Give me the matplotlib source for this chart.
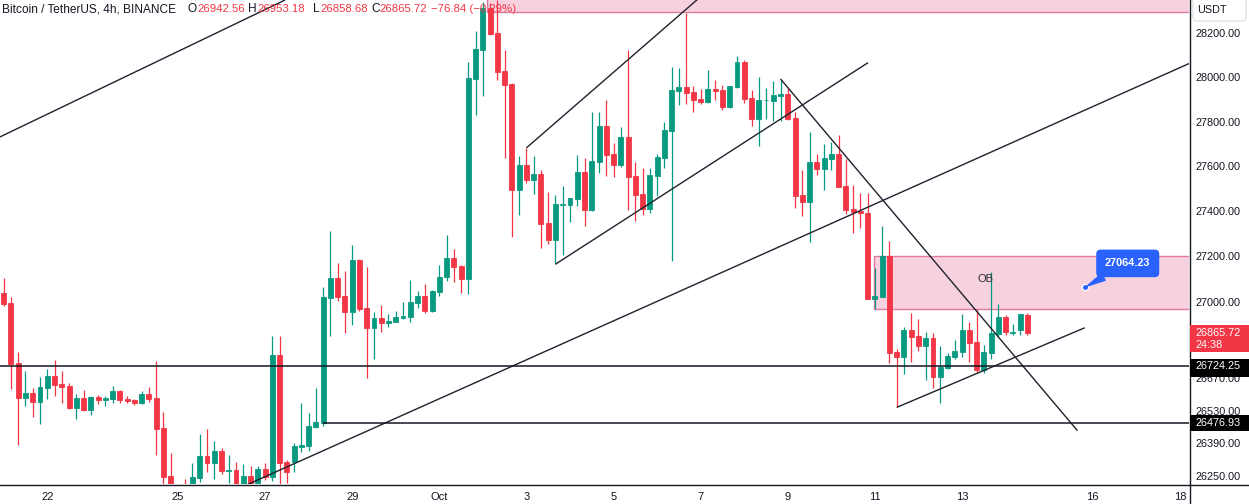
import numpy as np
import pandas as pd
import matplotlib
matplotlib.use("Agg")
import matplotlib.pyplot as plt
from matplotlib.lines import Line2D
from matplotlib.patches import Rectangle, FancyBboxPatch
from matplotlib.transforms import IdentityTransform
from matplotlib.ticker import FixedLocator, FixedFormatter, NullLocator

plt.rcParams['font.family'] = ['Liberation Sans', 'DejaVu Sans']

# BTCUSDT 4h candles, first bar 2023-09-21 00:00
start = "2023-09-21 00:00"
opens = [27039, 26996, 26735, 26585, 26605, 26568, 26628, 26679, 26644, 26635,
         26542, 26584, 26533, 26588, 26576, 26581, 26614, 26579, 26576, 26563,
         26601, 26584, 26455, 26251, 26182, 26205, 26182, 26244, 26336, 26307,
         26357, 26274, 26276, 26204, 26251, 26222, 26280, 26248, 26769, 26309,
         26309, 26374, 26378, 26461, 26478, 27019, 27105, 27026, 26958, 27184,
         26972, 26888, 26929, 26907, 26914, 26930, 26936, 26997, 27026, 26962,
         27045, 27108, 27193, 27158, 27102, 27993, 28123, 28314, 28201, 28029,
         27969, 27494, 27605, 27538, 27565, 27346, 27272, 27429, 27428, 27454,
         27574, 27405, 27618, 27780, 27654, 27605, 27732, 27556, 27475, 27409,
         27556, 27636, 27757, 27939, 27954, 27932, 27901, 27889, 27946, 27942,
         27867, 27957, 28069, 27906, 27813, 27895, 27894, 27916, 27923, 27816,
         27471, 27442, 27617, 27589, 27633, 27654, 27512, 27409, 27402, 27392,
         27015, 27023, 27201, 26782, 26762, 26878, 26852, 26810, 26843, 26675,
         26714, 26761, 26782, 26878, 26826, 26705, 26779, 26863, 26934, 26867,
         26877, 26942.56]
highs = [27105, 27022, 26782, 26701, 26627, 26676, 26709, 26748, 26701, 26648,
         26601, 26618, 26592, 26597, 26592, 26635, 26618, 26592, 26581, 26614,
         26631, 26744, 26523, 26350, 26200, 26240, 26306, 26430, 26451, 26400,
         26370, 26340, 26310, 26302, 26293, 26293, 26306, 26852, 26852, 26320,
         26391, 26562, 26519, 26627, 27065, 27312, 27171, 27136, 27250, 27190,
         27155, 26955, 26987, 26950, 26962, 27000, 27096, 27048, 27081, 27052,
         27162, 27294, 27232, 27162, 28070, 28210, 28345, 28338, 28350, 28123,
         27972, 27645, 27682, 27645, 27583, 27486, 27471, 27512, 27460, 27649,
         27636, 27843, 27843, 27897, 27705, 27777, 28123, 27618, 27592, 27592,
         27654, 27799, 28046, 28043, 28291, 27960, 27946, 28032, 27987, 27964,
         27962, 28096, 28076, 27942, 28001, 27951, 27982, 27992, 27951, 27842,
         27583, 27753, 27654, 27699, 27709, 27739, 27631, 27516, 27479, 27480,
         27149, 27334, 27267, 26795, 26892, 26952, 26926, 26869, 26865, 26808,
         26779, 26834, 26950, 26913, 26968, 26813, 27131, 26991, 26943, 26904,
         26950, 26953.18]
lows = [26984, 26623, 26384, 26549, 26503, 26474, 26581, 26593, 26563, 26538,
        26495, 26529, 26512, 26559, 26550, 26563, 26563, 26563, 26555, 26560,
        26568, 26341, 26190, 26148, 26105, 26130, 26161, 26227, 26269, 26240,
        26260, 26220, 26182, 26191, 26191, 26218, 26235, 26231, 26200, 26221,
        26269, 26351, 26357, 26457, 26465, 26853, 27006, 26866, 26900, 26962,
        26671, 26752, 26870, 26892, 26911, 26927, 26911, 26975, 26953, 26958,
        27027, 27093, 27088, 27038, 27036, 27830, 27916, 28193, 27987, 27637,
        27286, 27383, 27526, 27476, 27238, 27253, 27166, 27206, 27353, 27423,
        27335, 27400, 27571, 27556, 27553, 27596, 27405, 27357, 27383, 27393,
        27467, 27594, 27181, 27874, 27879, 27844, 27879, 27885, 27897, 27850,
        27862, 27951, 27883, 27781, 27691, 27813, 27804, 27804, 27808, 27415,
        27380, 27264, 27562, 27495, 27583, 27506, 27387, 27305, 27326, 27012,
        26971, 27020, 26734, 26544, 26686, 26741, 26788, 26660, 26628, 26561,
        26709, 26754, 26760, 26739, 26693, 26692, 26754, 26849, 26855, 26855,
        26855, 26858.68]
closes = [26993, 26732, 26585, 26605, 26568, 26631, 26679, 26641, 26632, 26541,
          26584, 26533, 26588, 26576, 26584, 26614, 26576, 26572, 26563, 26601,
          26581, 26452, 26248, 26182, 26140, 26165, 26247, 26336, 26306, 26357,
          26273, 26276, 26204, 26251, 26200, 26280, 26247, 26769, 26307, 26269,
          26378, 26383, 26464, 26481, 27022, 27105, 27023, 26958, 27184, 26968,
          26888, 26929, 26907, 26917, 26934, 26939, 27000, 27026, 26962, 27048,
          27109, 27193, 27154, 27102, 27996, 28128, 28314, 28196, 28025, 27966,
          27494, 27605, 27538, 27565, 27343, 27272, 27431, 27431, 27458, 27574,
          27405, 27622, 27780, 27651, 27606, 27732, 27553, 27471, 27409, 27560,
          27640, 27762, 27942, 27954, 27930, 27898, 27889, 27946, 27939, 27867,
          27960, 28069, 27903, 27813, 27897, 27897, 27919, 27923, 27813, 27468,
          27442, 27617, 27589, 27635, 27654, 27508, 27405, 27397, 27390, 27015,
          27026, 27201, 26779, 26762, 26878, 26849, 26810, 26843, 26675, 26717,
          26765, 26787, 26878, 26823, 26705, 26782, 26865, 26934, 26868, 26869,
          26947, 26865.72]

tick_dates = ["2023-09-22", "2023-09-25", "2023-09-27", "2023-09-29", "2023-10-01",
              "2023-10-03", "2023-10-05", "2023-10-07", "2023-10-09", "2023-10-11",
              "2023-10-13", "2023-10-16", "2023-10-18"]
tick_names = ["22", "25", "27", "29", "Oct", "3", "5", "7", "9", "11", "13", "16", "18"]
price_ticks = [26250, 26390, 26530, 26670, 27000, 27200, 27400, 27600, 27800, 28000, 28200]

# drawings: (bar, price) pairs
trend_lines = [
    [(-0.51, 27731), (38.75, 28352)],
    [(72, 27682), (97.3, 28405)],
    [(76, 27166), (119.05, 28066)],
    [(32, 26193), (163.4, 28064)],
    [(107, 27992), (147.9, 26444)],
    [(123, 26544), (148.9, 26888)],
]
level_full = 26724.25
level_part = 26476.93
level_part_from = 44
top_zone = (66.6, 28296, 28500)
ob_zone = (119.9, 26968, 27201)
ob_label = (135.2, 27100)
callout_bar = 148.9
callout_price = 27064.23

GREEN = '#089981'
RED = '#f23645'
DARK = '#131722'
BLUE = '#2962ff'
PINK = '#f8d1df'
PINK_EDGE = '#e07aa2'

W, H = 1249, 504
fig = plt.figure(figsize=(W / 100, H / 100), dpi=100)
ax = fig.add_axes([0, 1 - 484 / H, 1189 / W, 484 / H])
ax.set_yscale('log')
ax.set_ylim(26217, 28352)
ax.set_xlim(-0.51, 163.26)
for s in ax.spines.values():
    s.set_visible(False)

o = np.array(opens, dtype=float)
hi = np.array(highs, dtype=float)
lo = np.array(lows, dtype=float)
c = np.array(closes, dtype=float)
x = np.arange(len(o))
col = np.where(c >= o, GREEN, RED)

ax.vlines(x, lo, hi, colors=col, linewidth=0.9, zorder=3)
ax.bar(x, np.abs(c - o), bottom=np.minimum(o, c), width=0.68, color=col,
       edgecolor=col, linewidth=0.6, zorder=4)

# zones
ax.add_patch(Rectangle((top_zone[0], top_zone[1]), 200, top_zone[2] - top_zone[1],
                       facecolor=PINK, edgecolor=PINK_EDGE, lw=1, zorder=1))
ax.add_patch(Rectangle((ob_zone[0], ob_zone[1]), 200, ob_zone[2] - ob_zone[1],
                       facecolor=PINK, edgecolor=PINK_EDGE, lw=1, zorder=1))
ax.text(ob_label[0], ob_label[1], 'OB', ha='center', va='center', fontsize=8,
        color='#2a2e39', zorder=6)

for (x0, y0), (x1, y1) in trend_lines:
    ax.plot([x0, x1], [y0, y1], color='#1e222d', lw=1.0, zorder=5,
            solid_capstyle='butt')
ax.axhline(level_full, color=DARK, lw=1.1, zorder=5)
ax.hlines(level_part, level_part_from, 200, color=DARK, lw=1.1, zorder=5)

# price callout
ax.plot(callout_bar, callout_price, 'o', ms=4.5, mfc=BLUE, mec='white', mew=0.9, zorder=8)
ax.annotate(f'{callout_price:.2f}', xy=(callout_bar, callout_price), xytext=(43, 24),
            textcoords='offset pixels', ha='center', va='center', color='white',
            fontsize=7.8, fontweight='bold', zorder=9,
            bbox=dict(boxstyle='round,pad=0.75,rounding_size=0.35', fc=BLUE, ec=BLUE),
            arrowprops=dict(arrowstyle='wedge,tail_width=0.7,shrink_factor=0.5',
                            fc=BLUE, ec=BLUE, shrinkA=0, shrinkB=2))

# axes ticks
t0 = pd.Timestamp(start)
tick_pos = [(pd.Timestamp(d) - t0) / pd.Timedelta(hours=4) for d in tick_dates]
ax.xaxis.set_major_locator(FixedLocator(tick_pos))
ax.xaxis.set_major_formatter(FixedFormatter(tick_names))
ax.xaxis.set_minor_locator(NullLocator())
ax.tick_params(axis='x', length=0, pad=6, labelsize=8, labelcolor=DARK)

ax.yaxis.tick_right()
ax.yaxis.set_major_locator(FixedLocator(price_ticks))
ax.yaxis.set_major_formatter(FixedFormatter([f'{p:.2f}' for p in price_ticks]))
ax.yaxis.set_minor_locator(NullLocator())
ax.tick_params(axis='y', which='both', length=0, pad=5, labelsize=7.8, labelcolor=DARK)

# frame lines
fig.add_artist(Line2D([1189.5 / W] * 2, [0, 1], transform=fig.transFigure, color=DARK, lw=1))
fig.add_artist(Line2D([0, 1], [1 - 484.5 / H] * 2, transform=fig.transFigure, color=DARK, lw=1))

# price tags on the right scale
fig.canvas.draw()


def ypix(p):
    return ax.transData.transform((0, p))[1]


def tag(price, lines, color, above=8, below=8):
    yc = ypix(price)
    fig.add_artist(Rectangle((1190, yc - below), 59, above + below, transform=IdentityTransform(),
                             facecolor=color, edgecolor='none', zorder=10))
    for k, t in enumerate(lines):
        fig.text(1196 / W, (yc - k * 12) / H, t, color='white', fontsize=7.8,
                 ha='left', va='center', zorder=11)


tag(closes[-1], [f'{closes[-1]:.2f}', '24:38'], RED, above=8, below=19)
tag(level_full, [f'{level_full:.2f}'], '#000000', above=7, below=11)
tag(level_part, [f'{level_part:.2f}'], '#000000', above=8, below=8)

fig.add_artist(FancyBboxPatch((1193, H - 21), 53, 26, boxstyle='round,pad=0,rounding_size=4',
                              transform=IdentityTransform(), facecolor='white',
                              edgecolor='#e0e3eb', lw=1, zorder=10))
fig.text(1212 / W, 1 - 10 / H, 'USDT', color=DARK, fontsize=7.8, ha='center', va='center', zorder=11)

# legend header
header = [
    (2, 'Bitcoin / TetherUS, 4h, BINANCE', DARK, 8.6),
    (188, 'O', DARK, 8.6), (197, f'{opens[-1]:.2f}', RED, 8.2),
    (248, 'H', DARK, 8.6), (257, f'{highs[-1]:.2f}', RED, 8.2),
    (313, 'L', DARK, 8.6), (320, f'{lows[-1]:.2f}', RED, 8.2),
    (371, 'C', DARK, 8.6), (379, f'{closes[-1]:.2f}', RED, 8.2),
    (431, '\u221276.84 (\u22120.29%)', RED, 8.2),
]
for px, t, colr, fs in header:
    fig.text(px / W, 1 - 9 / H, t, color=colr, fontsize=fs, ha='left', va='center', zorder=12)

fig.savefig('out.png', dpi=100, facecolor='white')
